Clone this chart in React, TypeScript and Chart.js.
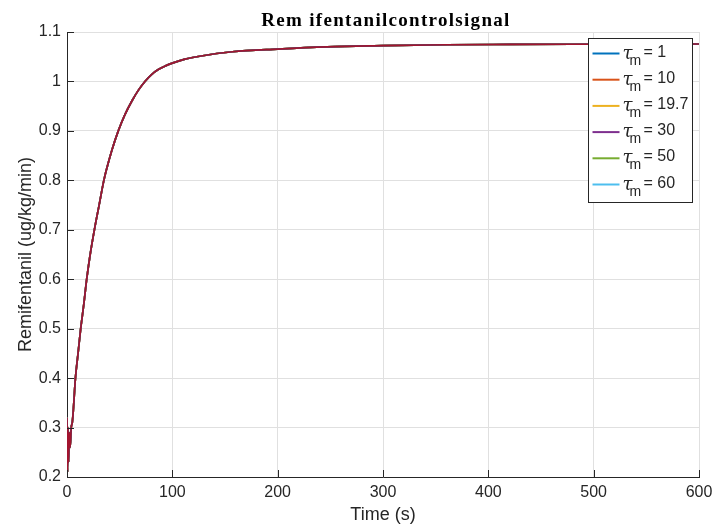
import React, { useEffect, useRef } from "react";
import { Chart, registerables } from "chart.js";

Chart.register(...registerables);

// ---- data ----
const timeS = [0, 0.5, 1, 1.5, 2.2, 3, 4, 5, 6, 8, 10.5, 13, 16, 18.7, 22, 26, 30.5, 35, 38.5, 42.6, 48.7, 55, 62, 68, 74, 80, 87, 94, 100, 112, 126, 157, 200, 247, 300, 360, 420, 480, 540, 600];
const remiValues = [0.32, 0.21, 0.3, 0.23, 0.29, 0.26, 0.3, 0.31, 0.335, 0.4, 0.45, 0.5, 0.55, 0.6, 0.65, 0.7, 0.75, 0.8, 0.83, 0.861, 0.9, 0.933, 0.962, 0.983, 1.0, 1.0135, 1.0245, 1.032, 1.037, 1.045, 1.051, 1.06, 1.0655, 1.07, 1.0723, 1.0742, 1.0748, 1.0752, 1.0755, 1.0757];
const tauValues = ["1", "10", "19.7", "30", "50", "60"];
const seriesColors = ["#0072BD", "#D95319", "#EDB120", "#7E2F8E", "#77AC30", "#4DBEEE"];
const topColor = "#A2142F";
const xTicks = [0, 100, 200, 300, 400, 500, 600];
const yTicks = [0.2, 0.3, 0.4, 0.5, 0.6, 0.7, 0.8, 0.9, 1.0, 1.1];
const titleText = "Rem ifentanilcontrolsignal";
const xTitle = "Time (s)";
const yTitle = "Remifentanil (ug/kg/min)";

const TXT = "#262626";
const GRID = "#e0e0e0";
const SANS = "'Liberation Sans', Arial, sans-serif";

const inTicks = {
  id: "inTicks",
  afterDatasetsDraw(chart: any) {
    const { ctx, chartArea, scales } = chart;
    const { left, bottom } = chartArea;
    ctx.save();
    ctx.strokeStyle = TXT;
    ctx.lineWidth = 1;
    scales.x.ticks.forEach((t: any) => {
      const px = Math.round(scales.x.getPixelForValue(t.value)) + 0.5;
      ctx.beginPath();
      ctx.moveTo(px, bottom);
      ctx.lineTo(px, bottom - 7);
      ctx.stroke();
    });
    scales.y.ticks.forEach((t: any) => {
      const py = Math.round(scales.y.getPixelForValue(t.value)) + 0.5;
      ctx.beginPath();
      ctx.moveTo(left, py);
      ctx.lineTo(left + 7, py);
      ctx.stroke();
    });
    ctx.restore();
  },
};

const customLegend = {
  id: "customLegend",
  afterDraw(chart: any) {
    const { ctx, chartArea } = chart;
    const bw = 104;
    const bh = 164;
    const bx = Math.round(chartArea.right - 111) + 0.5;
    const by = Math.round(chartArea.top + 6) + 0.5;
    ctx.save();
    ctx.fillStyle = "#ffffff";
    ctx.fillRect(bx, by, bw, bh);
    ctx.strokeStyle = TXT;
    ctx.lineWidth = 1;
    ctx.strokeRect(bx, by, bw, bh);
    const ds = chart.data.datasets.filter((d: any) => d.tau !== undefined);
    ds.forEach((d: any, i: number) => {
      const ry = by + 15 + i * 26.2;
      ctx.strokeStyle = d.borderColor;
      ctx.lineWidth = 2;
      ctx.beginPath();
      ctx.moveTo(bx + 4, ry);
      ctx.lineTo(bx + 31, ry);
      ctx.stroke();
      ctx.fillStyle = TXT;
      ctx.textBaseline = "alphabetic";
      ctx.textAlign = "left";
      ctx.font = `italic 18px 'DejaVu Serif', serif`;
      ctx.fillText("τ", bx + 34, ry + 5);
      ctx.font = `14px ${SANS}`;
      ctx.fillText("m", bx + 41, ry + 11);
      ctx.font = `16px ${SANS}`;
      ctx.fillText("= " + d.tau, bx + 55, ry + 3);
    });
    ctx.restore();
  },
};

const topTitle = {
  id: "topTitle",
  afterDraw(chart: any) {
    const { ctx, chartArea } = chart;
    ctx.save();
    ctx.fillStyle = "#000000";
    ctx.font = `bold 19px 'Liberation Serif', serif`;
    (ctx as any).letterSpacing = "1.3px";
    ctx.textAlign = "center";
    ctx.textBaseline = "alphabetic";
    ctx.fillText(titleText, (chartArea.left + chartArea.right) / 2 + 3, 26);
    ctx.restore();
  },
};

export default function App() {
  const ref = useRef<HTMLCanvasElement | null>(null);
  useEffect(() => {
    document.body.style.margin = "0";
    if (!ref.current) return;
    const pts = timeS.map((t, i) => ({ x: t, y: remiValues[i] }));
    const datasets: any[] = tauValues.map((tau, i) => ({
      label: "τm = " + tau,
      tau,
      data: pts,
      borderColor: seriesColors[i],
      borderWidth: 1.7,
      pointRadius: 0,
      cubicInterpolationMode: "monotone",
      order: 1,
    }));
    datasets.push({
      label: "",
      data: pts,
      borderColor: topColor,
      borderWidth: 1.7,
      pointRadius: 0,
      cubicInterpolationMode: "monotone",
      order: 0,
    });
    const chart = new Chart(ref.current, {
      type: "line",
      data: { datasets },
      plugins: [inTicks, customLegend, topTitle],
      options: {
        animation: false,
        responsive: false,
        devicePixelRatio: 1,
        layout: { padding: { left: 0, right: 14, top: 32, bottom: 0 } },
        plugins: { legend: { display: false }, title: { display: false }, tooltip: { enabled: false } },
        scales: {
          x: {
            type: "linear",
            min: 0,
            max: 600,
            afterBuildTicks: (s: any) => {
              s.ticks = xTicks.map((v) => ({ value: v }));
            },
            afterFit: (s: any) => {
              s.height = 51;
              s.paddingLeft = 0;
              s.paddingRight = 0;
            },
            grid: { color: GRID, drawTicks: false, lineWidth: 1 },
            border: { color: TXT, width: 1 },
            ticks: { color: TXT, font: { family: SANS, size: 16 }, padding: 6, maxRotation: 0 },
            title: { display: true, text: xTitle, color: TXT, font: { family: SANS, size: 18 }, padding: { top: 0, bottom: 2 } },
          },
          y: {
            type: "linear",
            min: 0.2,
            max: 1.1,
            afterBuildTicks: (s: any) => {
              s.ticks = yTicks.map((v) => ({ value: v }));
            },
            afterFit: (s: any) => {
              s.width = 67;
              s.paddingTop = 0;
              s.paddingBottom = 0;
            },
            grid: { color: GRID, drawTicks: false, lineWidth: 1 },
            border: { color: TXT, width: 1 },
            ticks: {
              color: TXT,
              font: { family: SANS, size: 16 },
              padding: 6,
              callback: (v: any) => String(Number(Number(v).toFixed(1))),
            },
            title: { display: true, text: yTitle, color: TXT, font: { family: SANS, size: 18 }, padding: { top: 15, bottom: 0 } },
          },
        },
      },
    });
    return () => chart.destroy();
  }, []);
  return (
    <div style={{ width: 713, height: 528, background: "#fff" }}>
      <canvas ref={ref} width={713} height={528} style={{ display: "block" }} />
    </div>
  );
}
